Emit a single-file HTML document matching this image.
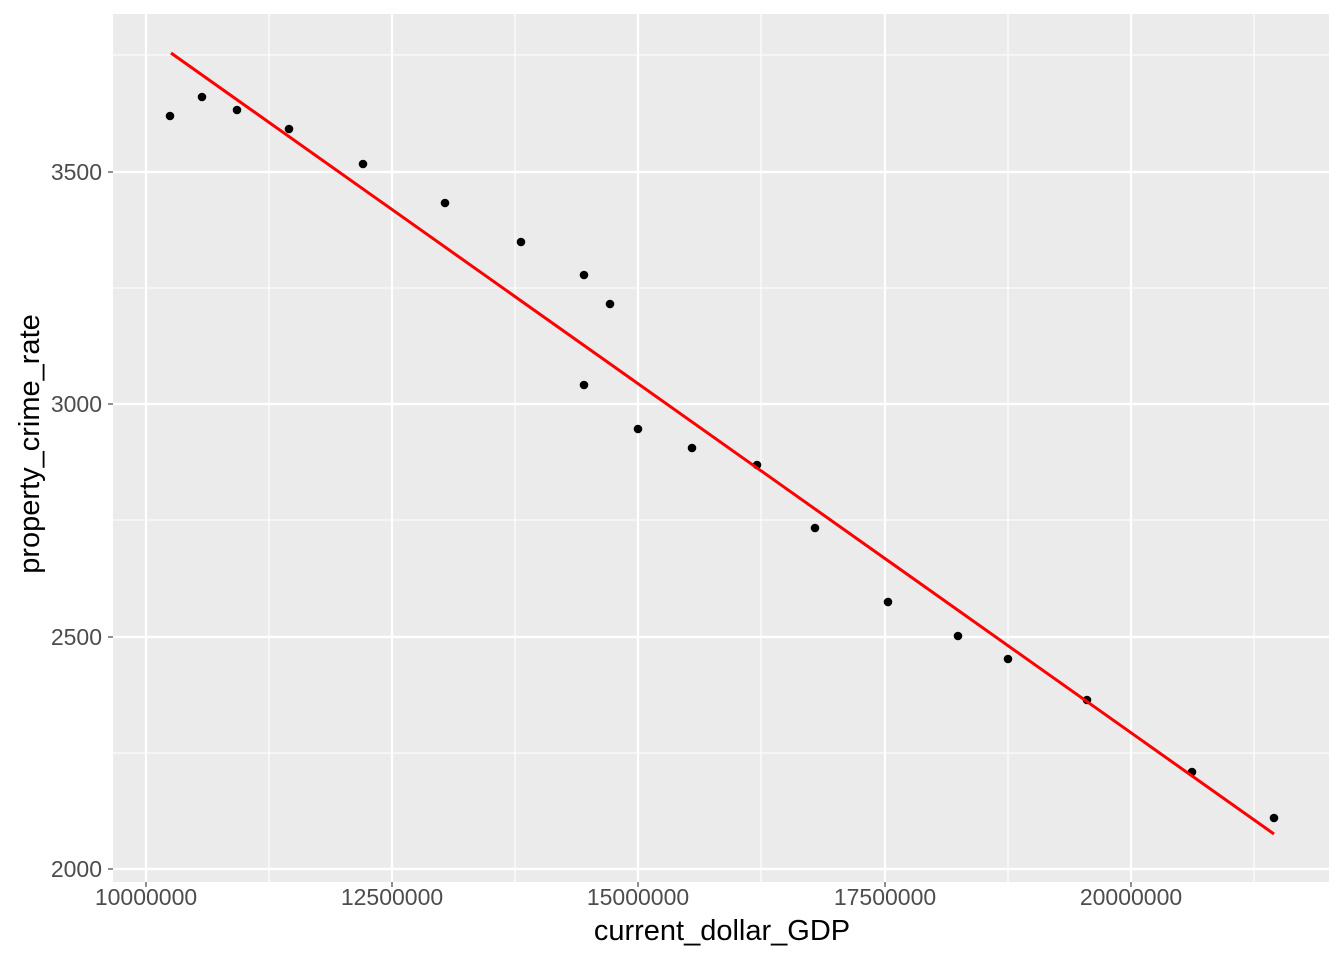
<!DOCTYPE html>
<html><head><style>body{margin:0;background:#fff;}svg{display:block;font-family:"Liberation Sans",sans-serif;}</style></head>
<body>
<svg width="1344" height="960" viewBox="0 0 1344 960">
<rect x="113" y="14" width="1216" height="868" fill="#EBEBEB"/>
<g stroke="#fff" stroke-width="1.1">
<line x1="269" y1="14" x2="269" y2="882"/><line x1="515" y1="14" x2="515" y2="882"/><line x1="761" y1="14" x2="761" y2="882"/><line x1="1008" y1="14" x2="1008" y2="882"/><line x1="1254" y1="14" x2="1254" y2="882"/>
<line x1="113" y1="55" x2="1329" y2="55"/><line x1="113" y1="288" x2="1329" y2="288"/><line x1="113" y1="520" x2="1329" y2="520"/><line x1="113" y1="753" x2="1329" y2="753"/>
</g>
<g stroke="#fff" stroke-width="2.2">
<line x1="146" y1="14" x2="146" y2="882"/><line x1="392" y1="14" x2="392" y2="882"/><line x1="638" y1="14" x2="638" y2="882"/><line x1="885" y1="14" x2="885" y2="882"/><line x1="1131" y1="14" x2="1131" y2="882"/>
<line x1="113" y1="172" x2="1329" y2="172"/><line x1="113" y1="404" x2="1329" y2="404"/><line x1="113" y1="637" x2="1329" y2="637"/><line x1="113" y1="869" x2="1329" y2="869"/>
</g>
<g fill="#000">
<circle cx="170" cy="116" r="4.3"/><circle cx="202" cy="97" r="4.3"/><circle cx="237" cy="110" r="4.3"/><circle cx="289" cy="129" r="4.3"/><circle cx="363" cy="164" r="4.3"/><circle cx="445" cy="203" r="4.3"/><circle cx="521" cy="242" r="4.3"/><circle cx="584" cy="275" r="4.3"/><circle cx="610" cy="304" r="4.3"/><circle cx="584" cy="385" r="4.3"/><circle cx="638" cy="429" r="4.3"/><circle cx="692" cy="448" r="4.3"/><circle cx="757" cy="465" r="4.3"/><circle cx="815" cy="528" r="4.3"/><circle cx="888" cy="602" r="4.3"/><circle cx="958" cy="636" r="4.3"/><circle cx="1008" cy="659" r="4.3"/><circle cx="1087" cy="700" r="4.3"/><circle cx="1192" cy="772" r="4.3"/><circle cx="1274" cy="818" r="4.3"/>
</g>
<line x1="171" y1="53" x2="1274" y2="834" stroke="#f00" stroke-width="3"/>
<g stroke="#333" stroke-width="1.1">
<line x1="146" y1="882" x2="146" y2="887"/><line x1="392" y1="882" x2="392" y2="887"/><line x1="638" y1="882" x2="638" y2="887"/><line x1="885" y1="882" x2="885" y2="887"/><line x1="1131" y1="882" x2="1131" y2="887"/>
<line x1="108" y1="172" x2="113" y2="172"/><line x1="108" y1="404" x2="113" y2="404"/><line x1="108" y1="637" x2="113" y2="637"/><line x1="108" y1="869" x2="113" y2="869"/>
</g>
<g fill="#4D4D4D" font-size="23" text-anchor="middle">
<text x="146" y="905">10000000</text><text x="392" y="905">12500000</text><text x="638" y="905">15000000</text><text x="885" y="905">17500000</text><text x="1131" y="905">20000000</text>
</g>
<g fill="#4D4D4D" font-size="23" text-anchor="end">
<text x="102" y="180">3500</text><text x="102" y="412">3000</text><text x="102" y="645">2500</text><text x="102" y="877">2000</text>
</g>
<text x="722" y="940" font-size="29" text-anchor="middle">current_dollar_GDP</text>
<text transform="translate(39,444) rotate(-90)" font-size="29" text-anchor="middle">property_crime_rate</text>
</svg>
</body></html>
